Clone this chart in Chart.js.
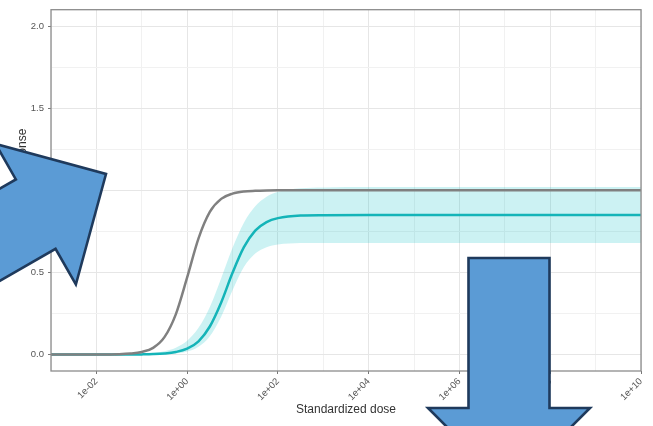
<!DOCTYPE html>
<html>
<head>
<meta charset="utf-8">
<script src="https://cdn.jsdelivr.net/npm/chart.js@4.4.1/dist/chart.umd.min.js"></script>
<style>
  html, body { margin: 0; padding: 0; background: #fff; overflow: hidden; }
  canvas { display: block; }
</style>
</head>
<body>
<canvas id="myChart" width="653" height="426"></canvas>
<script>
// doses (standardized), read on the log axis
dose = [0.001, 0.01, 0.0316, 0.0562, 0.1, 0.178, 0.316, 0.562, 1, 1.78, 3.16, 5.62,
        10, 17.8, 31.6, 56.2, 100, 316, 1000, 1e4, 1e6, 1e8, 1e10]

// grey curve
ref_resp = [0, 0.0003, 0.002, 0.006, 0.016, 0.041, 0.106, 0.245, 0.47, 0.708, 0.869, 0.948,
            0.98, 0.993, 0.997, 0.999, 1.0, 1.0, 1.0, 1.0, 1.0, 1.0, 1.0]

// teal curve and its band
test_resp = [0, 0, 0.0002, 0.0005, 0.0012, 0.0028, 0.0067, 0.0157, 0.036, 0.081, 0.171, 0.317,
             0.498, 0.654, 0.755, 0.807, 0.831, 0.847, 0.849, 0.85, 0.85, 0.85, 0.85]
test_upper = [0, 0.0002, 0.001, 0.0022, 0.0047, 0.0098, 0.0204, 0.042, 0.084, 0.163, 0.29, 0.465,
              0.65, 0.803, 0.903, 0.961, 0.991, 1.013, 1.018, 1.02, 1.02, 1.02, 1.02]
test_lower = [0, 0, 0, 0.0001, 0.0004, 0.001, 0.0027, 0.0071, 0.018, 0.047, 0.111, 0.231,
              0.392, 0.533, 0.615, 0.654, 0.67, 0.679, 0.68, 0.68, 0.68, 0.68, 0.68]

y_ticks = [0, 0.25, 0.5, 0.75, 1, 1.25, 1.5, 1.75, 2]
y_labels = ['0.0', '', '0.5', '', '1.0', '', '1.5', '', '2.0']
x_decades = [-3, -2, -1, 0, 1, 2, 3, 4, 5, 6, 7, 8, 9, 10]
x_labelled = [-2, 0, 2, 4, 6, 8, 10]

function pts(arr){
    var out = []
    for (i = 0; i < dose.length; i++) {
        out.push({x: dose[i], y: arr[i]})
    }
    return out
}

function expOf(v){ return Math.round(Math.log10(v)) }

function expLabel(e){
    var s = e < 0 ? '-' : '+'
    var a = Math.abs(e)
    return '1e' + s + (a < 10 ? '0' + a : '' + a)
}

// panel border drawn over the data, like ggplot
const panelBorder = {
    id: 'panelBorder',
    afterDatasetsDraw(chart){
        const a = chart.chartArea
        const c = chart.ctx
        c.save()
        c.strokeStyle = '#8c8c8c'
        c.lineWidth = 1.3
        c.strokeRect(a.left, a.top, a.right - a.left, a.bottom - a.top)
        c.restore()
    }
}

// two block arrows pasted on top of the figure
function blockArrow(c, tx, ty, dx, dy, headLen, headHalf, shaftHalf, shaftLen){
    var nx = -dy, ny = dx
    var bx = tx - dx * headLen, by = ty - dy * headLen
    var ex = tx - dx * (headLen + shaftLen), ey = ty - dy * (headLen + shaftLen)
    c.beginPath()
    c.moveTo(tx, ty)
    c.lineTo(bx + nx * headHalf, by + ny * headHalf)
    c.lineTo(bx + nx * shaftHalf, by + ny * shaftHalf)
    c.lineTo(ex + nx * shaftHalf, ey + ny * shaftHalf)
    c.lineTo(ex - nx * shaftHalf, ey - ny * shaftHalf)
    c.lineTo(bx - nx * shaftHalf, by - ny * shaftHalf)
    c.lineTo(bx - nx * headHalf, by - ny * headHalf)
    c.closePath()
    c.fill()
    c.stroke()
}

const arrows = {
    id: 'arrows',
    afterDraw(chart){
        const c = chart.ctx
        c.save()
        c.fillStyle = '#5b9bd5'
        c.strokeStyle = '#1f3a5c'
        c.lineWidth = 2.6
        c.lineJoin = 'miter'
        blockArrow(c, 106, 174, 0.868, -0.496, 81, 81, 40, 220)
        blockArrow(c, 509, 489, 0, 1, 81, 81, 40.5, 150)
        c.restore()
    }
}

Chart.defaults.font.family = '"Liberation Sans", Arial, sans-serif'
Chart.defaults.color = '#555'

const ctx = document.getElementById('myChart').getContext('2d')
const myChart = new Chart(ctx, {
    type: 'line',
    data: {
        datasets: [{
            label: 'lower',
            data: pts(test_lower),
            borderWidth: 0,
            pointRadius: 0,
            fill: false,
            cubicInterpolationMode: 'monotone',
            order: 4
        }, {
            label: 'upper',
            data: pts(test_upper),
            borderWidth: 0,
            pointRadius: 0,
            fill: '-1',
            backgroundColor: 'rgba(0, 191, 196, 0.2)',
            cubicInterpolationMode: 'monotone',
            order: 3
        }, {
            label: 'test',
            data: pts(test_resp),
            borderColor: '#14b4b8',
            borderWidth: 2.5,
            pointRadius: 0,
            fill: false,
            cubicInterpolationMode: 'monotone',
            order: 2
        }, {
            label: 'reference',
            data: pts(ref_resp),
            borderColor: '#808080',
            borderWidth: 2.5,
            pointRadius: 0,
            fill: false,
            cubicInterpolationMode: 'monotone',
            order: 1
        }]
    },
    plugins: [panelBorder, arrows],
    options: {
        responsive: false,
        animation: false,
        devicePixelRatio: 1,
        layout: { padding: { top: 5, right: 12, left: 0, bottom: 0 } },
        plugins: {
            legend: { display: false },
            tooltip: { enabled: false }
        },
        scales: {
            x: {
                type: 'logarithmic',
                min: 1e-3,
                max: 1e10,
                afterBuildTicks: function(scale){
                    scale.ticks = x_decades.map(function(e){ return {value: Math.pow(10, e)} })
                },
                afterFit: function(scale){ scale.height = 55 },
                ticks: {
                    autoSkip: false,
                    minRotation: 45,
                    maxRotation: 45,
                    padding: 2,
                    font: { size: 9.5 },
                    color: '#555',
                    callback: function(v){
                        var e = expOf(v)
                        return x_labelled.indexOf(e) >= 0 ? expLabel(e) : ''
                    }
                },
                grid: {
                    tickLength: 3,
                    lineWidth: 1,
                    color: function(c){
                        var e = expOf(c.tick.value)
                        return (e % 2 === 0) ? '#e6e6e6' : '#f1f1f1'
                    },
                    tickColor: function(c){
                        var e = expOf(c.tick.value)
                        return x_labelled.indexOf(e) >= 0 ? '#777' : 'rgba(0,0,0,0)'
                    }
                },
                border: { display: false },
                title: {
                    display: true,
                    text: 'Standardized dose',
                    color: '#333',
                    font: { size: 12 },
                    padding: { top: 0, bottom: 9 }
                }
            },
            y: {
                type: 'linear',
                min: -0.1,
                max: 2.1,
                afterBuildTicks: function(scale){
                    scale.ticks = y_ticks.map(function(v){ return {value: v} })
                },
                afterFit: function(scale){ scale.width = 51 },
                ticks: {
                    padding: 4,
                    font: { size: 9.5 },
                    color: '#555',
                    callback: function(v, i){ return y_labels[i] }
                },
                grid: {
                    tickLength: 3,
                    lineWidth: 1,
                    color: function(c){
                        return (c.index % 2 === 0) ? '#e6e6e6' : '#f1f1f1'
                    },
                    tickColor: function(c){
                        return (c.index % 2 === 0) ? '#777' : 'rgba(0,0,0,0)'
                    }
                },
                border: { display: false },
                title: {
                    display: true,
                    text: 'Standardized response',
                    color: '#333',
                    font: { size: 12 },
                    padding: { top: 15, bottom: 0 }
                }
            }
        }
    }
})
</script>
</body>
</html>
